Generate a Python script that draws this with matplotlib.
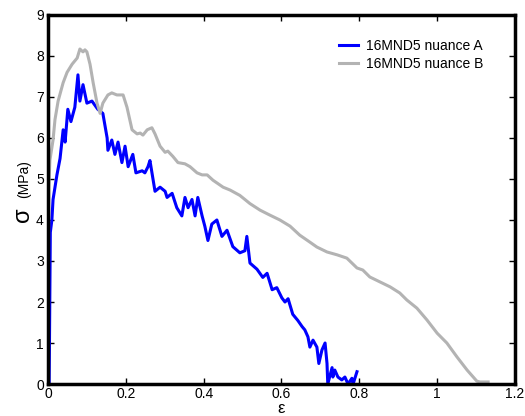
import matplotlib
matplotlib.use("Agg")
import matplotlib.pyplot as plt

plt.rcParams['font.family'] = ['Liberation Sans', 'DejaVu Sans']

# courbe A (bleue)
eps_a = [0.003, 0.006, 0.010, 0.013, 0.023, 0.031, 0.039, 0.044, 0.051, 0.059,
         0.069, 0.077, 0.082, 0.090, 0.100, 0.113, 0.128, 0.141, 0.152, 0.154,
         0.164, 0.172, 0.180, 0.190, 0.198, 0.206, 0.218, 0.226, 0.242, 0.249,
         0.257, 0.262, 0.275, 0.288, 0.301, 0.306, 0.319, 0.331, 0.344, 0.352,
         0.360, 0.370, 0.378, 0.385, 0.396, 0.403, 0.411, 0.421, 0.434, 0.447,
         0.460, 0.475, 0.493, 0.506, 0.511, 0.519, 0.537, 0.552, 0.563, 0.576,
         0.588, 0.601, 0.609, 0.617, 0.629, 0.642, 0.653, 0.660, 0.668, 0.673,
         0.681, 0.691, 0.696, 0.704, 0.712, 0.717, 0.719, 0.730, 0.732, 0.737,
         0.745, 0.755, 0.763, 0.771, 0.781, 0.784, 0.794]
sig_a = [0.0, 3.7, 4.0, 4.5, 5.1, 5.5, 6.2, 5.9, 6.7, 6.4,
         6.75, 7.54, 6.9, 7.3, 6.85, 6.9, 6.7, 6.6, 6.0, 5.7,
         5.95, 5.6, 5.9, 5.4, 5.8, 5.3, 5.6, 5.15, 5.2, 5.15,
         5.3, 5.45, 4.7, 4.8, 4.7, 4.55, 4.65, 4.3, 4.1, 4.55,
         4.3, 4.5, 4.1, 4.55, 4.1, 3.85, 3.5, 3.9, 4.0, 3.6,
         3.75, 3.35, 3.2, 3.25, 3.6, 2.95, 2.8, 2.6, 2.7, 2.3,
         2.35, 2.1, 2.0, 2.08, 1.7, 1.55, 1.4, 1.32, 1.15, 0.9,
         1.07, 0.9, 0.5, 0.83, 1.0, 0.5, 0.0, 0.4, 0.17, 0.34,
         0.17, 0.1, 0.17, 0.0, 0.14, 0.0, 0.3]

# courbe B (grise)
eps_b = [0.0, 0.002, 0.005, 0.013, 0.018, 0.026, 0.039, 0.049, 0.062, 0.075,
         0.082, 0.090, 0.095, 0.100, 0.108, 0.116, 0.126, 0.134, 0.141, 0.154,
         0.164, 0.177, 0.193, 0.203, 0.216, 0.229, 0.237, 0.244, 0.255, 0.267,
         0.275, 0.288, 0.301, 0.308, 0.321, 0.334, 0.352, 0.365, 0.383, 0.396,
         0.409, 0.424, 0.450, 0.468, 0.493, 0.519, 0.545, 0.570, 0.596, 0.622,
         0.647, 0.673, 0.691, 0.717, 0.743, 0.768, 0.781, 0.794, 0.809, 0.827,
         0.853, 0.879, 0.904, 0.922, 0.948, 0.974, 1.000, 1.025, 1.051, 1.077,
         1.102, 1.110, 1.131]
sig_b = [0.0, 4.8, 5.46, 5.95, 6.45, 6.9, 7.35, 7.6, 7.8, 7.95,
         8.17, 8.1, 8.15, 8.1, 7.8, 7.35, 6.85, 6.6, 6.85, 7.05,
         7.1, 7.05, 7.05, 6.75, 6.2, 6.1, 6.12, 6.07, 6.2, 6.25,
         6.1, 5.8, 5.65, 5.68, 5.55, 5.4, 5.37, 5.3, 5.15, 5.1,
         5.1, 4.97, 4.8, 4.73, 4.6, 4.4, 4.24, 4.12, 4.0, 3.85,
         3.63, 3.46, 3.34, 3.22, 3.15, 3.07, 2.95, 2.83, 2.78, 2.61,
         2.49, 2.37, 2.22, 2.05, 1.85, 1.56, 1.24, 1.0, 0.66, 0.34,
         0.07, 0.05, 0.05]

x_ticks = [0, 0.2, 0.4, 0.6, 0.8, 1, 1.2]
x_labels = ['0', '0.2', '0.4', '0.6', '0.8', '1', '1.2']
y_ticks = list(range(10))

fig = plt.figure(figsize=(5.25, 4.16), dpi=100)
ax = fig.add_axes([0.0914, 0.0769, 0.8895, 0.8871])

ax.plot(eps_a, sig_a, color='#0000ff', linewidth=2.2, label='16MND5 nuance A')
ax.plot(eps_b, sig_b, color='#b3b3b3', linewidth=2.2, label='16MND5 nuance B')

ax.set_xlim(0, 1.2)
ax.set_ylim(0, 9)
ax.set_xticks(x_ticks)
ax.set_xticklabels(x_labels)
ax.set_yticks(y_ticks)
ax.tick_params(direction='in', length=4, width=1, labelsize=10,
               top=True, right=True, pad=3)
ax.tick_params(axis='x', pad=2)
for s in ax.spines.values():
    s.set_linewidth(2.5)

ax.legend(loc='upper right', frameon=False, fontsize=10, handlelength=1.4,
          handletextpad=0.6, labelspacing=0.3, bbox_to_anchor=(0.96, 0.97))

# label y : sigma en bas, (MPa) au-dessus
fig.text(0.043, 0.485, 'σ', fontsize=17, rotation=90, ha='center', va='center')
fig.text(0.045, 0.57, '(MPa)', fontsize=10, rotation=90, ha='center', va='center')
fig.text(0.535, 0.0, 'ε', fontsize=12, ha='center', va='bottom')

fig.savefig('out.png', dpi=100)
